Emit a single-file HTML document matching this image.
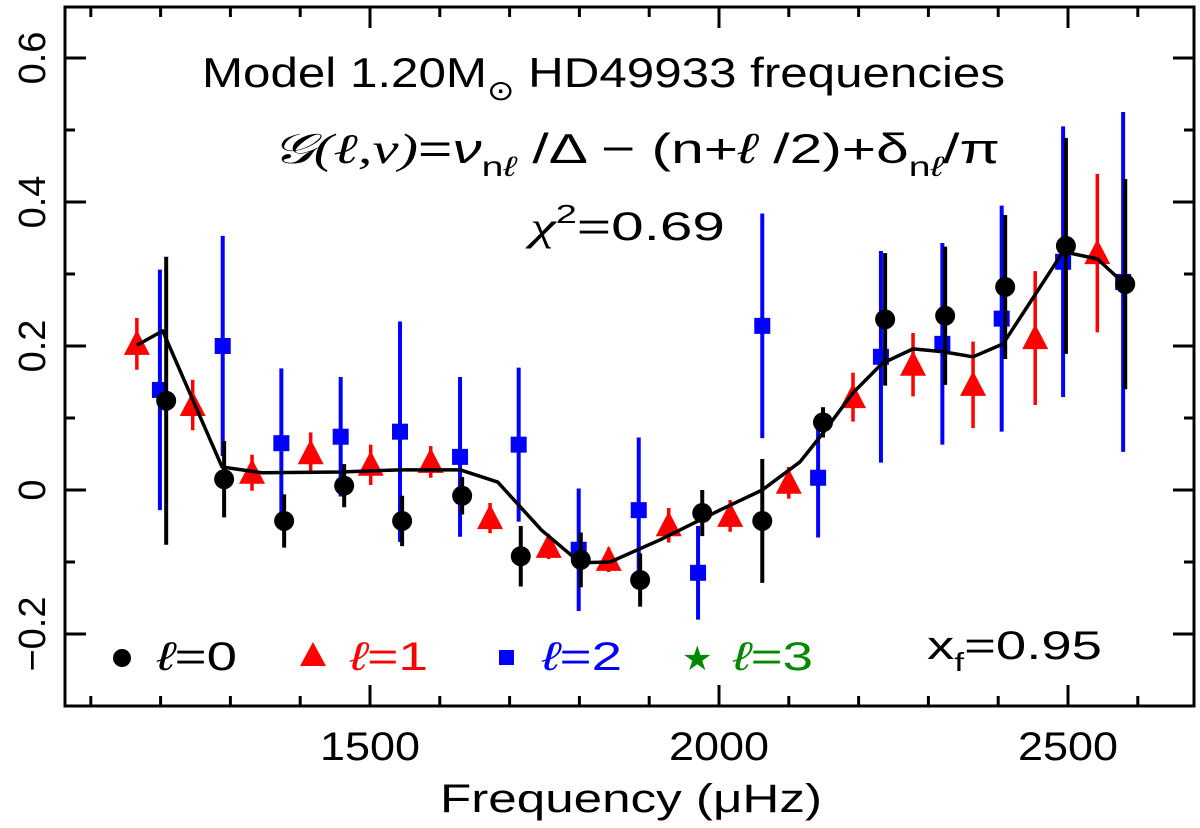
<!DOCTYPE html>
<html><head><meta charset="utf-8"><style>
html,body{margin:0;padding:0;background:#fff;}
svg{display:block;font-family:"Liberation Sans","DejaVu Sans",sans-serif;}
</style></head><body>
<svg id="chart" width="1200" height="828" viewBox="0 0 1200 828" xmlns="http://www.w3.org/2000/svg">
<g id="marks"></g>
<rect x="65" y="7" width="1129" height="699" fill="none" stroke="#000" stroke-width="3"/>
<g id="axes"></g>
<text x="202" y="87" font-size="42" textLength="803" lengthAdjust="spacingAndGlyphs">Model  1.20M<tspan font-size="28" dy="13">⊙</tspan><tspan dy="-13">  HD49933  frequencies</tspan></text>
<text x="272" y="163" font-size="42" textLength="728" lengthAdjust="spacingAndGlyphs"><tspan font-style="italic" font-family="Liberation Serif, serif">𝒢(ℓ,ν)</tspan>=<tspan font-style="italic">ν</tspan><tspan font-size="28" dy="13">n<tspan font-style="italic">ℓ</tspan></tspan><tspan dy="-13"> /Δ − (n+</tspan><tspan font-style="italic">ℓ</tspan> /2)+δ<tspan font-size="28" dy="13">n<tspan font-style="italic">ℓ</tspan></tspan><tspan dy="-13">/π</tspan></text>
<text x="530" y="240" font-size="40" textLength="195" lengthAdjust="spacingAndGlyphs"><tspan font-family="Liberation Serif, serif" font-style="italic">χ</tspan><tspan font-size="26" dy="-17">2</tspan><tspan dy="17">=0.69</tspan></text>
<g font-size="40">
<circle cx="122" cy="658" r="9" fill="#000"/>
<text x="157" y="670" textLength="80" lengthAdjust="spacingAndGlyphs"><tspan font-style="italic">ℓ</tspan>=0</text>
<polygon points="313,642 300,666 326,666" fill="#f00"/>
<text x="350" y="670" fill="#f00" textLength="78" lengthAdjust="spacingAndGlyphs"><tspan font-style="italic">ℓ</tspan>=1</text>
<rect x="499" y="650" width="15" height="15" fill="#00f"/>
<text x="542" y="670" fill="#00f" textLength="80" lengthAdjust="spacingAndGlyphs"><tspan font-style="italic">ℓ</tspan>=2</text>
<text x="682" y="670" fill="#080" font-size="34">★</text>
<text x="733" y="670" fill="#080" textLength="80" lengthAdjust="spacingAndGlyphs"><tspan font-style="italic">ℓ</tspan>=3</text>
<text x="927" y="659" textLength="175" lengthAdjust="spacingAndGlyphs">x<tspan font-size="26" dy="12">f</tspan><tspan dy="-12">=0.95</tspan></text>
</g>
<text x="631" y="812" font-size="40" text-anchor="middle" textLength="382" lengthAdjust="spacingAndGlyphs">Frequency (μHz)</text>
</svg>
<script>
const xTicksMajor = [1500, 2000, 2500];
const yTicksMajor = [-0.2, 0, 0.2, 0.4, 0.6];
const yTickLabels = ["−0.2", "0", "0.2", "0.4", "0.6"];
const l0Freq = [1208,1291,1377,1463,1546,1632,1716,1802,1887,1976,2062,2149,2238,2324,2410,2497,2582];
const l0Val = [0.124,0.015,-0.043,0.006,-0.043,-0.008,-0.092,-0.097,-0.125,-0.032,-0.043,0.094,0.237,0.242,0.282,0.339,0.286];
const l0Err = [0.20,0.053,0.037,0.03,0.035,0.026,0.042,0.038,0.037,0.032,0.086,0.021,0.092,0.096,0.10,0.15,0.146];
const l1Freq = [1166,1246,1331,1415,1501,1587,1672,1756,1842,1928,2016,2100,2192,2278,2364,2453,2542];
const l1Val = [0.203,0.118,0.024,0.051,0.035,0.039,-0.039,-0.079,-0.097,-0.049,-0.036,0.010,0.129,0.174,0.146,0.211,0.329];
const l1Err = [0.036,0.035,0.025,0.029,0.028,0.022,0.021,0.017,0.017,0.024,0.022,0.022,0.034,0.044,0.06,0.093,0.11];
const l2Freq = [1199,1289,1373,1458,1543,1629,1713,1799,1885,1970,2062,2142,2232,2320,2405,2493,2579];
const l2Val = [0.139,0.200,0.065,0.074,0.081,0.046,0.063,-0.083,-0.028,-0.115,0.228,0.017,0.185,0.203,0.238,0.317,0.289];
const l2Err = [0.167,0.153,0.104,0.083,0.153,0.111,0.107,0.085,0.101,0.065,0.156,0.083,0.147,0.14,0.157,0.188,0.236];
const modelFreq = [1166,1203,1288,1345,1457,1543,1629,1683,1746,1801,1844,1916,2001,2062,2116,2149,2192,2234,2278,2321,2364,2407,2493,2542,2579];
const modelVal = [0.201,0.221,0.032,0.024,0.025,0.028,0.028,0.011,-0.056,-0.101,-0.100,-0.069,-0.028,0,0.039,0.079,0.135,0.176,0.196,0.192,0.185,0.203,0.331,0.321,0.288];

const NS = "http://www.w3.org/2000/svg";
function X(f){ return 21 + (f - 1000) * 0.698; }
function Y(v){ return 490 - v * 720; }
function mk(tag, attrs, parent){ const e = document.createElementNS(NS, tag); for (const k in attrs) e.setAttribute(k, attrs[k]); parent.appendChild(e); return e; }
const marks = document.getElementById('marks');
const axes = document.getElementById('axes');

for (let f = 1100; f <= 2600; f += 100) {
  const major = xTicksMajor.includes(f);
  const L = major ? 21 : 10;
  const b = mk('line', {x1: X(f), x2: X(f), y1: 706, y2: 706 - L, stroke: '#000', 'stroke-width': 3}, axes);
  
  
  const t = mk('line', {x1: X(f), x2: X(f), y1: 7, y2: 7 + L, stroke: '#000', 'stroke-width': 3}, axes);
  
  
}
xTicksMajor.forEach(f => {
  const t = mk('text', {x: X(f), y: 760, 'font-size': 40, 'text-anchor': 'middle', textLength: 100, lengthAdjust: 'spacingAndGlyphs'}, axes);
  
  
  t.textContent = String(f);
});
for (let i = -2; i <= 6; i++) {
  const v = i / 10;
  const major = (i % 2 === 0);
  const L = major ? 21 : 10;
  const l = mk('line', {x1: 65, x2: 65 + L, y1: Y(v), y2: Y(v), stroke: '#000', 'stroke-width': 3}, axes);
  
  
  const r = mk('line', {x1: 1194, x2: 1194 - L, y1: Y(v), y2: Y(v), stroke: '#000', 'stroke-width': 3}, axes);
  
  
}
yTicksMajor.forEach((v, i) => {
  const t = mk('text', {x: 0, y: 0, 'font-size': 38, 'text-anchor': 'middle', transform: `translate(45,${Y(v)}) rotate(-90)`}, axes);
  
  
  t.textContent = yTickLabels[i];
});

function errBars(freq, val, err, color, w, name) {
  freq.forEach((f, i) => {
    const e = mk('line', {x1: X(f), x2: X(f), y1: Y(val[i] + err[i]), y2: Y(val[i] - err[i]), stroke: color, 'stroke-width': w}, marks);
    
    
  });
}
errBars(l2Freq, l2Val, l2Err, '#00f', 4, 'error-bar-l2');
l2Freq.forEach((f, i) => {
  const s = mk('rect', {x: X(f) - 8, y: Y(l2Val[i]) - 8, width: 16, height: 16, fill: '#00f'}, marks);
  
  
});
errBars(l1Freq, l1Val, l1Err, '#f00', 3.5, 'error-bar-l1');
l1Freq.forEach((f, i) => {
  const x = X(f), y = Y(l1Val[i]);
  const p = mk('polygon', {points: `${x},${y - 14} ${x - 13},${y + 11} ${x + 13},${y + 11}`, fill: '#f00'}, marks);
  
  
});
const pl = mk('polyline', {points: modelFreq.map((f, i) => X(f) + ',' + Y(modelVal[i])).join(' '), fill: 'none', stroke: '#000', 'stroke-width': 3.5, 'stroke-linejoin': 'round'}, marks);


errBars(l0Freq, l0Val, l0Err, '#000', 4, 'error-bar-l0');
l0Freq.forEach((f, i) => {
  const c = mk('circle', {cx: X(f), cy: Y(l0Val[i]), r: 10, fill: '#000'}, marks);
  
  
});
</script>
</body></html>
